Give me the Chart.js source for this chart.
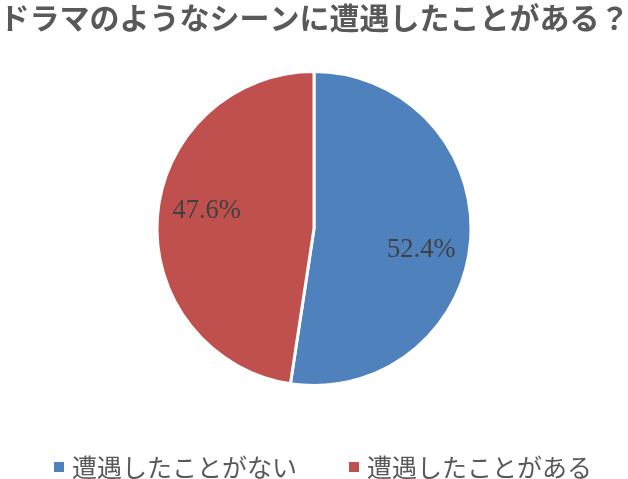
<!DOCTYPE html>
<html>
<head>
<meta charset="utf-8">
<script src="https://cdn.jsdelivr.net/npm/chart.js@4/dist/chart.umd.min.js"></script>
<style>
	html, body { margin: 0; padding: 0; background: #fff; }
	#wrap { width: 628px; height: 479px; position: relative; }
</style>
</head>
<body>
<div id="wrap"><canvas id="myChart"></canvas></div>
<script>
const chartTitle = 'ドラマのようなシーンに遭遇したことがある？';
const categories = ['遭遇したことがない', '遭遇したことがある'];
const shares = [52.4, 47.6];
const sliceColors = ['#4F81BD', '#C0504D'];

// percent labels inside the slices (serif like the original)
const sliceLabels = {
	id: 'sliceLabels',
	afterDatasetsDraw(chart) {
		const ctx = chart.ctx;
		const meta = chart.getDatasetMeta(0);
		meta.data.forEach((arc, i) => {
			const p = arc.getProps(['x', 'y', 'startAngle', 'endAngle', 'outerRadius'], true);
			const a = (p.startAngle + p.endAngle) / 2 + 6 * Math.PI / 180;
			const r = p.outerRadius * 0.695;
			ctx.save();
			ctx.font = '26.5px "Liberation Serif", serif';
			ctx.fillStyle = '#404040';
			ctx.textAlign = 'center';
			ctx.textBaseline = 'alphabetic';
			ctx.fillText(shares[i].toFixed(1) + '%', p.x + Math.cos(a) * r, p.y + Math.sin(a) * r + 9);
			ctx.restore();
		});
	}
};

const defaultLabels = Chart.overrides.doughnut.plugins.legend.labels.generateLabels;

const ctx = document.getElementById('myChart');
new Chart(ctx, {
	type: 'pie',
	data: {
		labels: categories,
		datasets: [{
			data: shares,
			backgroundColor: sliceColors,
			borderColor: '#ffffff',
			borderWidth: 3,
			radius: 157
		}]
	},
	options: {
		responsive: true,
		maintainAspectRatio: false,
		animation: false,
		// wider than the canvas so the legend can sit a bit right of the pie centre
		layout: {
			padding: { top: 0, left: -19.5, right: -20.5, bottom: -10.5 }
		},
		plugins: {
			tooltip: { enabled: false },
			title: {
				display: true,
				text: chartTitle,
				color: '#595959',
				font: { family: '"Noto Sans CJK JP"', size: 30, weight: 'bold', lineHeight: 1.2 },
				padding: { top: 0, bottom: 23 }
			},
			legend: {
				position: 'bottom',
				align: 'end',
				labels: {
					usePointStyle: true,
					pointStyle: 'rect',
					boxWidth: 1,
					boxHeight: 10,
					padding: 56.5,
					color: '#595959',
					font: { family: '"Noto Sans CJK JP"', size: 25 },
					generateLabels: function (chart) {
						return defaultLabels(chart).map(item => {
							item.lineWidth = 0;
							return item;
						});
					}
				}
			}
		}
	},
	plugins: [sliceLabels]
});
</script>
</body>
</html>
